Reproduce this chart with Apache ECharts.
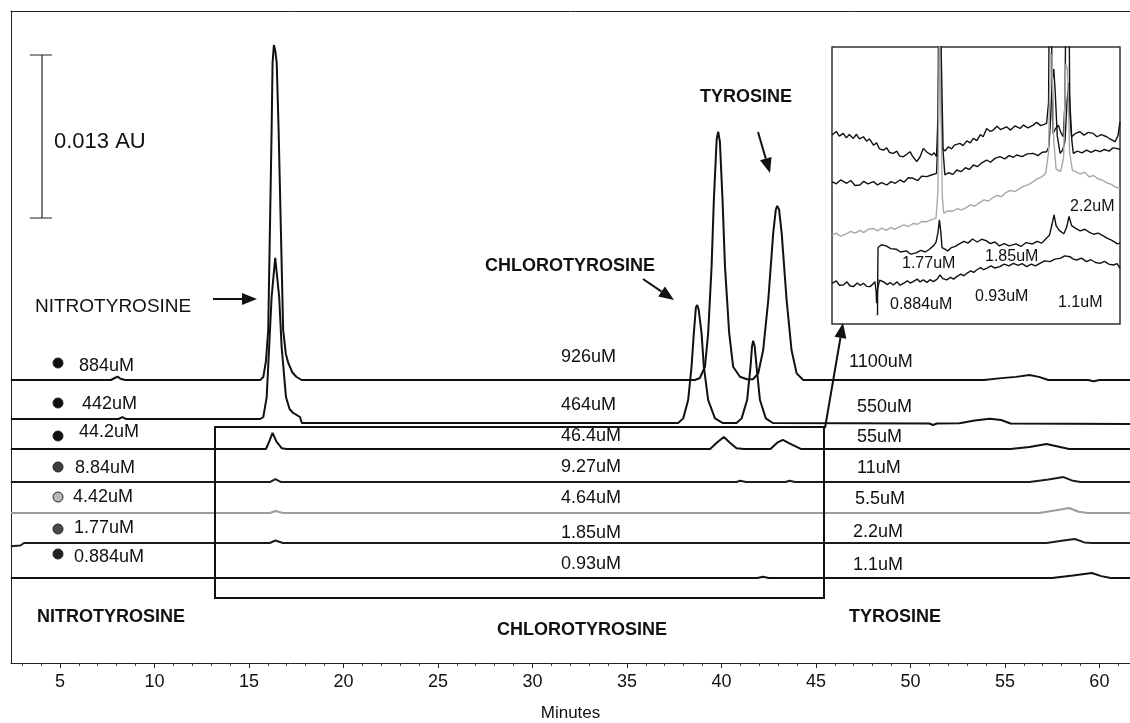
<!DOCTYPE html>
<html>
<head>
<meta charset="utf-8">
<style>html,body{margin:0;padding:0;background:#fff}#chart{width:1130px;height:723px}</style>
<script src="https://cdn.jsdelivr.net/npm/echarts@6/dist/echarts.min.js"></script>
</head>
<body>
<div id="chart"></div>
<script>
// retention time (min) vs absorbance (mAU); each trace is offset upward
const majorTicks = [5, 10, 15, 20, 25, 30, 35, 40, 45, 50, 55, 60];
const minorTicks = [3, 4, 6, 7, 8, 9, 11, 12, 13, 14, 16, 17, 18, 19, 21, 22, 23, 24, 26, 27, 28, 29, 31, 32, 33, 34,
  36, 37, 38, 39, 41, 42, 43, 44, 46, 47, 48, 49, 51, 52, 53, 54, 56, 57, 58, 59, 61];

const nitroLabels = ['884uM', '442uM', '44.2uM', '8.84uM', '4.42uM', '1.77uM', '0.884uM'];
const chloroLabels = ['926uM', '464uM', '46.4uM', '9.27uM', '4.64uM', '1.85uM', '0.93uM'];
const tyrLabels = ['1100uM', '550uM', '55uM', '11uM', '5.5uM', '2.2uM', '1.1uM'];

// baseline of each trace in mAU
const traceOffsets = [22.57, 19.46, 17.07, 14.43, 11.96, 9.57, 6.78];

// [minutes, mAU above baseline]
const trace884 = [[2.4,0],[7.7,0],[7.95,0.2],[8.07,0.26],[8.2,0.1],[8.45,0],[15.6,0],[15.76,0.24],[15.9,1.5],[16.02,3.99],
  [16.11,11.96],[16.2,19.94],[16.25,25.28],[16.32,26.71],[16.4,26.2],[16.47,25.28],[16.57,19.94],[16.69,11.96],[16.81,3.99],
  [16.95,2.1],[17.08,1.36],[17.3,0.6],[17.52,0.24],[17.79,0],[38.6,0],[38.86,0.16],[39.13,1.06],[39.3,3.75],[39.48,9.04],
  [39.6,14.35],[39.75,19.2],[39.83,19.8],[39.92,19.0],[40.06,14.35],[40.19,9.04],[40.41,3.75],[40.62,1.06],[40.98,0.26],
  [41.35,0.06],[41.67,0.06],[41.95,0.53],[42.21,2.39],[42.48,6.38],[42.74,11.7],[42.88,13.6],[42.95,13.88],[43.05,13.6],
  [43.19,11.7],[43.45,6.38],[43.71,2.39],[43.98,0.53],[44.33,0],[53.9,0],[54.8,0.15],[55.6,0.25],[56.3,0.4],[56.8,0.25],
  [57.3,0],[59.4,0],[59.7,-0.1],[60,0],[61.9,0]];
const trace442 = [[2.4,0],[4.4,0],[4.5,-0.15],[4.6,0],[8.1,0],[8.3,0.15],[8.5,0],[15.6,0],[15.76,0.16],[15.94,1.75],
  [16.07,5.74],[16.2,9.73],[16.39,12.86],[16.6,9.73],[16.73,5.74],[16.96,1.75],[17.15,0.8],[17.34,0.48],[17.7,0.16],
  [17.8,-0.32],[37.71,-0.32],[37.98,0.05],[38.24,1.51],[38.42,4.17],[38.54,6.83],[38.65,8.9],[38.72,9.09],[38.8,8.7],
  [38.95,6.83],[39.07,4.17],[39.3,1.51],[39.66,0.05],[40.08,-0.32],[40.8,-0.32],[41.07,0.05],[41.36,1.51],[41.54,4.17],
  [41.62,5.8],[41.68,6.24],[41.76,5.8],[41.86,4.17],[42.04,1.51],[42.35,0.05],[42.72,-0.32],[51.0,-0.36],[51.2,-0.48],
  [51.4,-0.36],[52.6,-0.34],[53.4,-0.12],[54.2,0.02],[54.8,-0.08],[55.3,-0.36],[61.9,-0.4]];
const trace44 = [[2.4,0],[15.9,0],[16.05,0.5],[16.25,1.28],[16.45,0.6],[16.74,0.05],[17.0,0],[39.4,0],[39.8,0.55],
  [40.13,0.96],[40.45,0.5],[40.8,0.05],[41.2,0],[42.6,0],[42.95,0.5],[43.25,0.72],[43.6,0.45],[44.2,0],[55.3,0],
  [56.3,0.15],[57.2,0.4],[57.8,0.2],[58.4,0],[61.9,0]];
const trace8 = [[2.4,0],[16.1,0],[16.4,0.24],[16.7,0],[40.8,0],[41.0,0.1],[41.3,0],[43.4,0],[43.6,0.1],[43.9,0],
  [56.3,0],[57.3,0.2],[58.1,0.4],[58.6,0.1],[59.0,0],[61.9,0]];
const trace4 = [[2.4,0],[16.1,0],[16.4,0.16],[16.8,0],[56.8,0],[57.8,0.25],[58.4,0.4],[58.9,0.1],[59.4,0],[61.9,0]];
const trace1 = [[2.4,-0.25],[2.9,-0.2],[3.1,0],[16.1,0],[16.4,0.2],[16.8,0],[57.2,0],[58.1,0.2],[58.7,0.32],
  [59.2,0.05],[59.6,0],[61.9,0]];
const trace0 = [[2.4,0],[41.9,0],[42.2,0.1],[42.5,0],[57.5,0],[58.6,0.2],[59.6,0.4],[60.1,0.15],[60.6,0],[61.9,0]];
const traces = [trace884, trace442, trace44, trace8, trace4, trace1, trace0];
const traceColors = ['#111', '#111', '#111', '#1c1c1c', '#9c9c9c', '#1c1c1c', '#111'];

// 0.013 AU scale bar (mAU)
const scaleBar = [[3.41,48.49],[4.58,48.49],'-',[4.05,48.49],[4.05,35.49],'-',[3.41,35.49],[4.58,35.49]];

// inset: expanded view of the boxed region, relative units 0-100
const inset44 = [[0,68.2],[1.5,69.5],[2.5,67.8],[3.9,68.8],[5,67.2],[6,68.4],[7.4,67.0],[8.5,68.5],[9.5,66.8],[10.9,67.6],
  [12,66.0],[13,66.8],[14.4,64.6],[15.5,65.4],[16.5,63.2],[17.8,62.8],[19,63.6],[20,61.9],[21.3,61.6],[22.5,62.4],[23.5,60.6],
  [24.8,60.4],[26,61.3],[27.1,62.2],[28,60.5],[29.4,58.6],[30.5,60.2],[31.7,63.4],[33,62.0],[34.6,61.0],[35.5,61.8],[36.3,60.4],
  [36.8,75],[37.2,140],[37.8,140],[38.2,63.4],[39.3,62.5],[40.4,64.0],[41.5,63.2],[42.5,64.6],[44.4,65.2],[45.5,64.4],[46.8,66.1],
  [48,65.4],[49.1,67.0],[50.3,66.2],[51.5,68.4],[52.5,67.6],[53.7,70.6],[55,69.5],[56,70.0],[57.3,71.4],[58.5,70.2],[60.6,71.2],
  [62,70.0],[63.5,71.5],[65.3,70.6],[66.5,71.8],[68,70.8],[69.9,71.8],[71,72.8],[72.5,71.6],[74.5,72.4],[75.2,80],[75.6,140],
  [76.2,140],[76.8,68.8],[77.6,70.5],[78.6,71.8],[79.5,69],[80.3,67.6],[80.9,80],[81.4,140],[82.1,140],[82.6,75],[83.2,67.6],
  [84.5,68.8],[86.1,69.4],[87.5,68.2],[89,69.2],[90.7,68.8],[92,67.6],[93.5,68.4],[95.4,67.6],[96.5,66.8],[98.3,65.8],[99.3,68],[100,73]];
const inset8 = [[0,51.4],[1.5,50.6],[3,52.0],[5.1,50.8],[6.5,51.8],[8,50.0],[9.7,50.2],[11,51.5],[12.5,50.6],[14.4,51.4],
  [15.8,50.2],[17.2,51.0],[19.0,50.2],[20.5,51.4],[22,50.8],[23.6,52.0],[25,51.2],[26.5,52.8],[28.2,52.6],[29.8,51.8],[31.2,53.4],
  [32.9,53.2],[34.5,53.8],[36.3,54.4],[36.9,70],[37.4,125],[38.0,125],[38.6,62],[39.2,53.8],[40.5,54.6],[42,54.0],[43.3,55.6],
  [44.8,55.0],[46.3,56.4],[47.7,55.8],[49.1,57.4],[50.5,56.8],[52,58.2],[53.7,59.2],[55,58.4],[56.6,59.8],[58.3,60.4],[60,59.6],
  [61.5,60.8],[63,60.2],[64.1,61.0],[66,60.4],[67.8,61.4],[69.9,61.6],[71.5,60.8],[73,62.0],[74.5,62.2],[75.3,64],[75.9,74],
  [76.5,88],[77,92],[77.5,84],[78.2,68],[79.2,61.6],[80.1,62.8],[80.9,66],[81.6,80],[82.2,87],[82.8,76],[83.3,66],[83.8,61.6],
  [85.2,62.4],[86.8,61.8],[88.4,62.8],[90,62.0],[91.5,62.8],[93.1,62.2],[94.6,63.0],[96.2,62.4],[97.6,63.6],[98.8,63.4],[100,63]];
const inset4 = [[0,32.0],[1.5,32.8],[3,31.6],[5.1,32.6],[6.5,33.4],[8,32.8],[9.7,33.8],[11,33.0],[12.6,34.2],[14.4,34.5],
  [15.8,33.6],[17.2,34.6],[18.8,33.8],[20.4,34.8],[21.8,34.2],[23.4,35.1],[25,35.8],[26.6,35.2],[28.1,36.3],[29.7,36.0],[31.2,37.0],
  [32.7,36.9],[34.4,37.6],[36.1,38.2],[36.8,48],[37.3,110],[37.9,110],[38.3,46],[38.8,40.0],[40.3,40.8],[41.9,40.7],[43.4,41.6],
  [45,41.2],[46.5,41.9],[48,43.0],[49.6,42.6],[51.2,43.8],[52.8,44.8],[54.3,44.4],[55.8,45.6],[57.4,46.4],[58.9,46.0],[60.4,47.5],
  [62,48.2],[63.5,47.8],[65.0,48.8],[66.6,49.8],[68.1,50.2],[69.6,51.2],[71.2,52.4],[72.7,53.0],[74.2,54.4],[75.2,62],[75.8,98],
  [76.4,96],[77,66],[77.8,56],[79.4,55.0],[80.4,60],[81.2,94],[81.8,92],[82.5,62],[83.5,55.4],[84.6,55.0],[86.2,54.2],[87.7,54.8],
  [89.3,53.1],[90.8,53.6],[92.4,52.4],[93.9,51.9],[95.4,51.0],[97,50.4],[98.5,49.4],[100,49.0]];
const inset1 = [[15.8,3.2],[15.9,20],[16.0,27.6],[17.2,28.6],[18.8,28.2],[20.4,27.2],[22.3,27.0],[23.8,26.0],[25.8,26.4],
  [27.4,25.2],[29.2,25.7],[30.8,26.6],[32.4,26.0],[33.8,27.0],[35.2,28.2],[36.1,29.5],[36.8,33],[37.3,37.6],[37.8,33],[38.2,27.6],
  [39.2,27.0],[40.2,26.4],[41.5,27.6],[42.8,28.0],[44.2,28.9],[45.8,29.8],[47.2,29.2],[48.8,30.7],[50.4,29.6],[52,30.6],[53.5,30.1],
  [55,29.0],[56.6,29.6],[58.1,28.2],[59.8,29.0],[61.5,28.2],[63.9,28.9],[65.6,28.0],[67.4,29.4],[69.6,28.9],[71.2,29.8],[72.8,29.2],
  [74.2,30.7],[75.5,32],[76.4,36],[77.1,39.4],[77.8,35.5],[78.9,33.8],[80.5,32.6],[81.5,35],[82.3,38.8],[83.2,35.5],[84.6,34.5],
  [86.2,33.6],[87.8,34.2],[89.3,33.2],[90.8,32.4],[92.4,32.8],[93.9,32.0],[95.5,31.0],[97.2,30.2],[99.1,28.9],[100,29.2]];
const inset0 = [[0,14.7],[1.5,15.6],[2.6,14.0],[3.9,14.1],[5.2,15.2],[6.2,13.8],[7.4,13.5],[8.8,14.8],[9.8,13.9],[10.9,14.7],
  [12.0,13.6],[13.2,13.5],[14.2,14.4],[14.9,15.3],[15.3,12],[15.5,7.5],[15.8,12.5],[16.5,15.8],[17.8,15.3],[19.2,14.2],[20.2,15.0],
  [21.3,14.1],[22.6,15.2],[23.6,14.0],[24.8,14.7],[26.2,15.6],[27.2,14.8],[28.2,15.3],[29.6,16.2],[30.6,15.2],[31.7,15.9],[33,15.0],
  [34,16.0],[35.2,15.3],[36.5,16.2],[37.5,17.7],[38.5,16.4],[39.8,15.9],[41.2,16.8],[42.2,16.2],[43.3,17.1],[44.8,18.0],[45.8,17.4],
  [46.8,18.3],[48.2,19.2],[49.2,18.6],[50.2,19.5],[51.6,20.4],[52.6,19.6],[53.7,20.1],[55.2,21.0],[56.6,20.2],[58.3,20.7],[59.8,21.6],
  [61.4,21.0],[63.0,21.9],[64.6,21.2],[66,21.8],[67.6,20.7],[69.2,21.6],[70.6,21.0],[72.2,21.9],[73.8,22.8],[75.7,22.5],[77.4,23.4],
  [79.2,23.7],[80.8,24.6],[82.6,24.3],[83.8,23.4],[85.0,23.1],[86.6,23.8],[88.4,22.5],[89.9,23.2],[91.5,22.2],[93.1,21.9],[94.6,22.6],
  [96.1,21.6],[97.7,21.3],[99,21.8],[100,20.1]];
const insetTraces = [inset44, inset8, inset4, inset1, inset0];
const insetColors = ['#111', '#111', '#a8a8a8', '#111', '#111'];

const FONT = '"Liberation Sans", Arial, Helvetica, sans-serif';
const X_MIN = 2.41, X_MAX = 61.62;
const chart = echarts.init(document.getElementById('chart'));

const series = traces.map((sig, i) => ({
  type: 'line', xAxisIndex: 0, yAxisIndex: 0, showSymbol: false, silent: true,
  lineStyle: { color: traceColors[i], width: 2 },
  data: sig.map(([t, v]) => [t, v + traceOffsets[i]]),
}));
series.push({
  type: 'line', xAxisIndex: 0, yAxisIndex: 0, showSymbol: false, silent: true,
  lineStyle: { color: '#222', width: 1.2 }, data: scaleBar,
});
insetTraces.forEach((d, i) => series.push({
  type: 'line', xAxisIndex: 2, yAxisIndex: 1, showSymbol: false, silent: true, clip: true, z: 5,
  lineStyle: { color: insetColors[i], width: 1.4 }, data: d,
}));

// annotation layout (pixels)
const leftX = [79, 82, 79, 75, 73, 74, 74];
const leftY = [366, 404, 432, 468, 497, 528, 557];
const dotY = [363, 403, 436, 467, 497, 529, 554];
const dotColors = ['#111', '#111', '#111', '#3d3d3d', '#b8b8b8', '#4a4a4a', '#222'];
const midY = [357, 405, 436, 467, 498, 533, 564];
const rightX = [849, 857, 857, 857, 855, 853, 853];
const rightY = [362, 407, 437, 468, 499, 532, 565];

function txt(x, y, s, size, bold) {
  return { type: 'text', z: 50, style: { x, y, text: s, fill: '#111',
    font: (bold ? 'bold ' : '') + size + 'px ' + FONT, verticalAlign: 'middle', textVerticalAlign: 'middle' } };
}
function arrow(x1, y1, x2, y2) {
  const a = Math.atan2(y2 - y1, x2 - x1), L = 15, W = 6;
  const bx = x2 - L * Math.cos(a), by = y2 - L * Math.sin(a);
  const px = -Math.sin(a) * W, py = Math.cos(a) * W;
  return [
    { type: 'line', z: 50, shape: { x1, y1, x2: bx, y2: by }, style: { stroke: '#111', lineWidth: 2 } },
    { type: 'polygon', z: 50, shape: { points: [[x2, y2], [bx + px, by + py], [bx - px, by - py]] }, style: { fill: '#111' } },
  ];
}

const graphics = [];
nitroLabels.forEach((s, i) => {
  graphics.push({ type: 'circle', z: 50, shape: { cx: 58, cy: dotY[i], r: 5 },
    style: { fill: dotColors[i], stroke: '#222', lineWidth: 1 } });
  graphics.push(txt(leftX[i], leftY[i], s, 18));
});
chloroLabels.forEach((s, i) => graphics.push(txt(561, midY[i], s, 18)));
tyrLabels.forEach((s, i) => graphics.push(txt(rightX[i], rightY[i], s, 18)));
graphics.push(
  txt(54, 142, '0.013 AU', 22),
  txt(35, 307, 'NITROTYROSINE', 19),
  txt(485, 266, 'CHLOROTYROSINE', 18, true),
  txt(700, 97, 'TYROSINE', 18, true),
  txt(37, 617, 'NITROTYROSINE', 18, true),
  txt(497, 630, 'CHLOROTYROSINE', 18, true),
  txt(849, 617, 'TYROSINE', 18, true),
  txt(1070, 207, '2.2uM', 16),
  txt(902, 264, '1.77uM', 16),
  txt(985, 257, '1.85uM', 16),
  txt(890, 305, '0.884uM', 16),
  txt(975, 297, '0.93uM', 16),
  txt(1058, 303, '1.1uM', 16),
  { type: 'rect', z: 50, shape: { x: 215, y: 427, width: 609, height: 171 },
    style: { fill: 'none', stroke: '#111', lineWidth: 2 } },
  ...arrow(213, 299, 257, 299),
  ...arrow(643, 279, 674, 300),
  ...arrow(758, 132, 770, 173),
  ...arrow(825, 428, 843, 323)
);

chart.setOption({
  animation: false,
  backgroundColor: '#fff',
  grid: [
    { left: 11, top: 11, right: 0, height: 652, outerBoundsMode: 'none' },
    { left: 832, top: 47, width: 288, height: 277, show: true, borderColor: '#333', borderWidth: 1.5,
      backgroundColor: '#fff', z: 4, outerBoundsMode: 'none' },
  ],
  xAxis: [
    { type: 'value', gridIndex: 0, min: X_MIN, max: X_MAX, position: 'bottom',
      splitLine: { show: false },
      axisLine: { onZero: false, lineStyle: { color: '#222', width: 1 } },
      axisTick: { length: 5, customValues: majorTicks, lineStyle: { color: '#222' } },
      axisLabel: { customValues: majorTicks, color: '#111', fontSize: 18, fontFamily: FONT, margin: 10 },
      name: 'Minutes', nameLocation: 'middle', nameGap: 42,
      nameTextStyle: { color: '#111', fontSize: 17, fontFamily: FONT } },
    { type: 'value', gridIndex: 0, min: X_MIN, max: X_MAX, position: 'bottom',
      splitLine: { show: false }, axisLine: { show: false }, axisLabel: { show: false },
      axisTick: { length: 3, customValues: minorTicks, lineStyle: { color: '#444' } } },
    { type: 'value', gridIndex: 1, min: 0, max: 100, show: false },
    { type: 'value', gridIndex: 0, min: X_MIN, max: X_MAX, position: 'top',
      splitLine: { show: false }, axisTick: { show: false }, axisLabel: { show: false },
      axisLine: { onZero: false, lineStyle: { color: '#222', width: 1 } } },
  ],
  yAxis: [
    { type: 'value', gridIndex: 0, min: 0, max: 52, position: 'left',
      splitLine: { show: false }, axisTick: { show: false }, axisLabel: { show: false },
      axisLine: { show: true, onZero: false, lineStyle: { color: '#222', width: 1 } } },
    { type: 'value', gridIndex: 1, min: 0, max: 100, show: false },
  ],
  series,
  graphic: { elements: graphics },
});
</script>
</body>
</html>
